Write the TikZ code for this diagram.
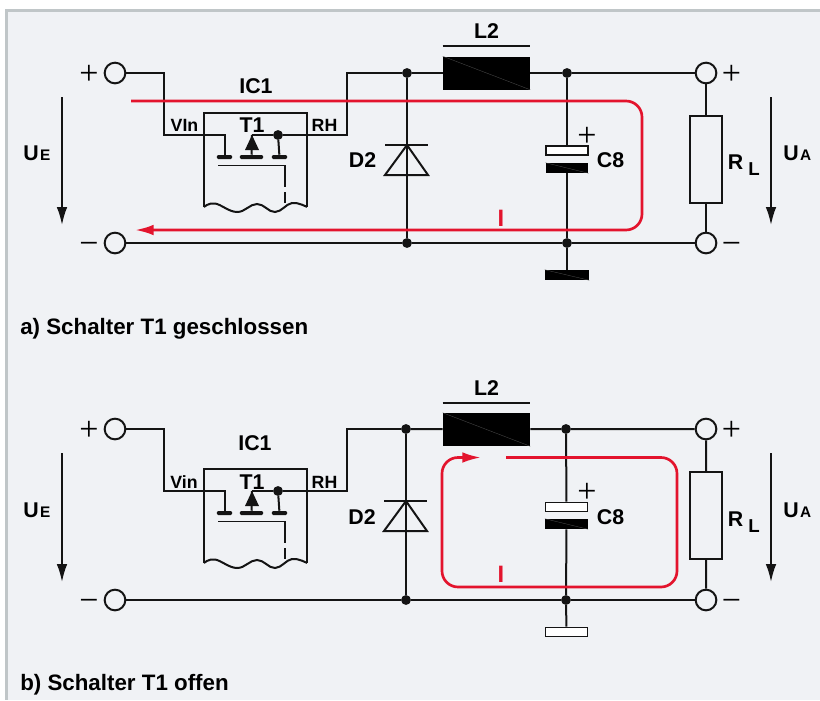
\documentclass[tikz,border=0pt]{standalone}
\usepackage{fontspec}
\setmainfont{Liberation Sans}
\newfontfamily\signfont{Liberation Serif}
\usetikzlibrary{arrows.meta}

\begin{document}
\begin{tikzpicture}[x=0.75pt,y=-0.75pt]

    % Colors
    \definecolor{panelbg}{RGB}{240,242,245}
    \definecolor{panelrim}{RGB}{192,198,200}
    \definecolor{wirecol}{RGB}{20,20,20}
    \definecolor{currentred}{RGB}{227,20,45}

    \tikzset{
        wire/.style={draw=wirecol,line width=1.5pt},
        thinwire/.style={draw=wirecol,line width=1.2pt},
        terminal/.style={circle,draw=wirecol,line width=1.5pt,fill=panelbg,inner sep=0pt,minimum size=15.5pt},
        junction/.style={circle,fill=wirecol,inner sep=0pt,minimum size=7.4pt},
        blackbox/.style={rectangle,fill=black,inner sep=0pt,minimum width=#1},
        whitebox/.style={rectangle,draw=wirecol,line width=1.2pt,fill=white,inner sep=0pt,minimum width=#1},
        gatebar/.style={rectangle,fill=wirecol,rounded corners=1pt,inner sep=0pt,minimum width=#1,minimum height=3pt},
        slash/.style={draw=gray!60!black,line width=0.25pt},
        label/.style={font=\bfseries\fontsize{16}{18}\selectfont,inner sep=0pt,anchor=base,text=black},
        pinlabel/.style={font=\bfseries\fontsize{13.3}{15}\selectfont,inner sep=0pt,anchor=base,text=black},
        caption/.style={font=\bfseries\fontsize{16.75}{18}\selectfont,inner sep=0pt,anchor=base west,text=black},
        sign/.style={font=\signfont\fontsize{25.5}{28}\selectfont,inner sep=0pt,anchor=base,text=black},
        voltage/.style={draw=wirecol,line width=1.4pt,-{Latex[length=13.5pt,width=8pt]}},
        current/.style={draw=currentred,line width=2pt,rounded corners=12pt},
        currenttip/.style={-{Latex[length=14pt,width=8pt]}},
        currentmark/.style={font=\bfseries\fontsize{17.8}{20}\selectfont,inner sep=0pt,anchor=base,text=currentred}
    }

    % Background panel
    \useasboundingbox (0,0) rectangle (820,700);
    \fill[white] (0,0) rectangle (820,700);
    \fill[panelrim] (5,9) rectangle (820,700);
    \fill[panelbg] (7.5,11.5) rectangle (820,700);

    % ---- a) T1 closed ----

    % Terminals and junctions
    \node[terminal] (tpa) at (115,73) {};
    \node[terminal] (tma) at (115,243) {};
    \node[terminal] (tqa) at (706,73) {};
    \node[terminal] (tra) at (706,243) {};
    \node[junction] (jda) at (407,73) {};
    \node[junction] (jca) at (567,73) {};
    \node[junction] (jea) at (407,243) {};
    \node[junction] (jfa) at (567,243) {};
    \node[junction] (jta) at (278,135) {};

    % Parts
    \node[blackbox=65.25pt,minimum height=24.75pt] (lta) at (486.5,73) {};
    \node[whitebox=31.5pt,minimum height=6.75pt] (cpa) at (567,150.5) {};
    \node[blackbox=32pt,minimum height=7.5pt] (cma) at (567,168) {};
    \node[blackbox=33pt,minimum height=7.5pt] (gna) at (567,275) {};
    \node[rectangle,draw=wirecol,line width=1.5pt,inner sep=0pt,minimum width=24pt,minimum height=65.25pt] (rla) at (706,159) {};
    \node[gatebar=11.5pt] (gga) at (224.5,157) {};
    \node[gatebar=17.5pt] (gsa) at (251.5,157) {};
    \node[gatebar=11.5pt] (gba) at (279.5,157) {};
    \coordinate (vina) at (164,135);
    \coordinate (rha) at (347,135);
    \coordinate (sra) at (252,135);

    % IC outline
    \draw[wire] (204,207) -- (204,113) -- (307,113) -- (307,207);
    \draw[wire] plot[smooth,tension=0.7] coordinates {(204,207) (215,203.5) (237,212) (257,204) (275,212) (292,203) (307,207)};
    \draw[thinwire] (218,165.5) -- (285,165.5) -- (285,187) (285,192) -- (285,203);

    % Wires
    \draw[wire] (tpa) -| (vina) -| (gga);
    \draw[wire] (sra) -- (jta) -- (rha) |- (jda);
    \draw[wire] (sra) -- (gsa);
    \draw[wire] (jta) -- (gba);
    \draw[wire] (jda) -- (lta) -- (jca) -- (tqa) -- (rla) -- (tra);
    \draw[wire] (tma) -- (jea) -- (jfa) -- (tra);
    \draw[wire] (jda) -- (jea);
    \draw[wire] (jca) -- (cpa);
    \draw[wire] (cma) -- (jfa) -- (gna);

    % Transistor and diode symbols
    \fill[wirecol] (252,135) -- (259,150) -- (245,150) -- cycle;
    \draw[wire] (385,145) -- (428,145);
    \draw[wire] (407,145) -- (385,175) -- (428,175) -- cycle;

    % Slashes on the black parts
    \draw[slash] (lta.north west) -- (lta.south east);
    \draw[slash] (cma.north west) -- (cma.south east);
    \draw[slash] (gna.north west) -- (gna.south east);
    \draw[line width=1.5pt,draw=wirecol] (lta.north west |- 0,46) -- (lta.north east |- 0,46);

    % Current
    \coordinate (isa) at (131,101);
    \coordinate (ica) at (642,230);
    \coordinate (iea) at (135,230);
    \draw[current,currenttip] (isa) -| (ica) -- (iea);
    \node[currentmark] (ima) at (501,226) {I};

    % Voltage arrows
    \coordinate (uea1) at (62,97);
    \coordinate (uea2) at (62,225);
    \coordinate (uaa1) at (771,97);
    \coordinate (uaa2) at (771,225);
    \draw[voltage] (uea1) -- (uea2);
    \draw[voltage] (uaa1) -- (uaa2);

    % Texts
    \node[sign] (spa) at (89,84.5) {+};
    \node[sign] (sma) at (89,254.5) {−};
    \node[sign] (sqa) at (731.5,84.5) {+};
    \node[sign] (sra2) at (731.5,254.5) {−};
    \node[sign] (sca) at (587,146.5) {+};
    \node[label] (ic1a) at (256,93) {IC1};
    \node[label] (t1a) at (252,132) {T1};
    \node[pinlabel] (vinla) at (184.5,131) {VIn};
    \node[pinlabel] (rhla) at (324.5,131) {RH};
    \node[label] (l2a) at (486.5,38) {L2};
    \node[label] (d2a) at (362.5,167) {D2};
    \node[label] (c8a) at (610.5,167) {C8};
    \node[label] (rlna) at (735.5,169) {R};
    \node[label,font=\bfseries\fontsize{14}{16}\selectfont] (rlia) at (754,175) {L};
    \node[label,anchor=base west] (uela) at (23,160) {U\kern1pt{\fontsize{11.5}{12}\selectfont E}};
    \node[label,anchor=base west] (uala) at (783,160.5) {U\kern1pt{\fontsize{11.5}{12}\selectfont A}};
    \node[caption] (capa) at (20,334) {a) Schalter T1 geschlossen};

    % ---- b) T1 open ----

    % Terminals and junctions
    \node[terminal] (tpb) at (115,429) {};
    \node[terminal] (tmb) at (115,600) {};
    \node[terminal] (tqb) at (706,429) {};
    \node[terminal] (trb) at (706,600) {};
    \node[junction] (jdb) at (406,429) {};
    \node[junction] (jcb) at (566,429) {};
    \node[junction] (jeb) at (406,600) {};
    \node[junction] (jfb) at (566,600) {};
    \node[junction] (jtb) at (278,491) {};

    % Parts
    \node[blackbox=65.25pt,minimum height=24.75pt] (ltb) at (486.5,429.5) {};
    \node[whitebox=31.5pt,minimum height=6.75pt] (cpb) at (566.5,507) {};
    \node[blackbox=32pt,minimum height=7.5pt] (cmb) at (566.5,524) {};
    \node[whitebox=31.5pt,minimum height=6.75pt] (gnb) at (566.5,632) {};
    \node[rectangle,draw=wirecol,line width=1.5pt,inner sep=0pt,minimum width=24pt,minimum height=65.25pt] (rlb) at (706,515.5) {};
    \node[gatebar=11.5pt] (ggb) at (224.5,513) {};
    \node[gatebar=17.5pt] (gsb) at (251.5,513) {};
    \node[gatebar=11.5pt] (gbb) at (279.5,513) {};
    \coordinate (vinb) at (164,491);
    \coordinate (rhb) at (347,491);
    \coordinate (srb) at (252,491);

    % IC outline
    \draw[wire] (204,563) -- (204,469) -- (307,469) -- (307,563);
    \draw[wire] plot[smooth,tension=0.7] coordinates {(204,563) (215,559.5) (237,568) (257,560) (275,568) (292,559) (307,563)};
    \draw[thinwire] (218,521.5) -- (285,521.5) -- (285,543) (285,548) -- (285,559);

    % Wires
    \draw[wire] (tpb) -| (vinb) -| (ggb);
    \draw[wire] (srb) -- (jtb) -- (rhb) |- (jdb);
    \draw[wire] (srb) -- (gsb);
    \draw[wire] (jtb) -- (gbb);
    \draw[wire] (jdb) -- (ltb) -- (jcb) -- (tqb) -- (rlb) -- (trb);
    \draw[wire] (tmb) -- (jeb) -- (jfb) -- (trb);
    \draw[wire] (jdb) -- (jeb);
    \draw[wire] (jcb) -- (cpb);
    \draw[wire] (cmb) -- (jfb) -- (gnb);

    % Transistor and diode symbols
    \fill[wirecol] (252,491) -- (259,506) -- (245,506) -- cycle;
    \draw[wire] (384,501) -- (427,501);
    \draw[wire] (406,501) -- (384,531) -- (427,531) -- cycle;

    % Slashes on the black parts
    \draw[slash] (ltb.north west) -- (ltb.south east);
    \draw[slash] (cmb.north west) -- (cmb.south east);
    \draw[line width=1.5pt,draw=wirecol] (ltb.north west |- 0,403) -- (ltb.north east |- 0,403);

    % Current
    \coordinate (isb) at (506,457.5);
    \coordinate (icb) at (677,587);
    \coordinate (idb) at (442,457.5);
    \coordinate (ieb) at (481,457.5);
    \draw[current,currenttip] (isb) -| (icb) -| (idb) -- (ieb);
    \node[currentmark] (imb) at (501,582) {I};

    % Voltage arrows
    \coordinate (ueb1) at (62,453);
    \coordinate (ueb2) at (62,582);
    \coordinate (uab1) at (771,453);
    \coordinate (uab2) at (771,582);
    \draw[voltage] (ueb1) -- (ueb2);
    \draw[voltage] (uab1) -- (uab2);

    % Texts
    \node[sign] (spb) at (89,440.5) {+};
    \node[sign] (smb) at (89,611.5) {−};
    \node[sign] (sqb) at (731.5,440.5) {+};
    \node[sign] (srb2) at (731.5,611.5) {−};
    \node[sign] (scb) at (587,502.5) {+};
    \node[label] (ic1b) at (255,450) {IC1};
    \node[label] (t1b) at (252,489) {T1};
    \node[pinlabel] (vinlb) at (184,488) {Vin};
    \node[pinlabel] (rhlb) at (324.5,488) {RH};
    \node[label] (l2b) at (486.5,395) {L2};
    \node[label] (d2b) at (362,524) {D2};
    \node[label] (c8b) at (610.5,524) {C8};
    \node[label] (rlnb) at (735.5,526) {R};
    \node[label,font=\bfseries\fontsize{14}{16}\selectfont] (rlib) at (754,532) {L};
    \node[label,anchor=base west] (uelb) at (23,517) {U\kern1pt{\fontsize{11.5}{12}\selectfont E}};
    \node[label,anchor=base west] (ualb) at (783,517) {U\kern1pt{\fontsize{11.5}{12}\selectfont A}};
    \node[caption] (capb) at (20,690) {b) Schalter T1 offen};

\end{tikzpicture}
\end{document}
